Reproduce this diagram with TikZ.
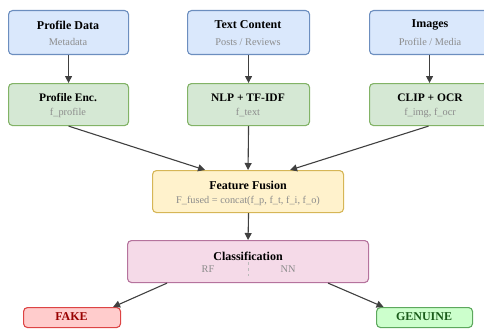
\documentclass[tikz,border=0pt]{standalone}
\usepackage{fontspec}
\setmainfont{Liberation Serif}
\usetikzlibrary{arrows.meta,calc}
\definecolor{inFill}{HTML}{DAE8FC}\definecolor{inLine}{HTML}{6C8EBF}
\definecolor{encFill}{HTML}{D5E8D4}\definecolor{encLine}{HTML}{82B366}
\definecolor{fuFill}{HTML}{FFF2CC}\definecolor{fuLine}{HTML}{D6B656}
\definecolor{clFill}{HTML}{F5DAE8}\definecolor{clLine}{HTML}{B5739D}
\definecolor{fkFill}{HTML}{FFCCCC}\definecolor{fkLine}{HTML}{DD4444}\definecolor{fkText}{HTML}{990000}
\definecolor{gnFill}{HTML}{CCFFCC}\definecolor{gnLine}{HTML}{5DA85D}\definecolor{gnText}{HTML}{1A5C1A}
\definecolor{subText}{HTML}{8C8C8C}
\definecolor{arr}{HTML}{404040}
\tikzset{
  box/.style={draw, line width=1.1pt, rounded corners=4pt, inner sep=0pt, anchor=north west},
  title/.style={font=\bfseries\fontsize{12}{14}\selectfont, inner sep=0pt},
  enctitle/.style={font=\bfseries\fontsize{11.5}{13}\selectfont, inner sep=0pt},
  sub/.style={font=\fontsize{10.3}{12}\selectfont, text=subText, inner sep=0pt},
  link/.style={draw=arr, line width=1.1pt, -{Triangle[length=7pt,width=7pt]}},
}
\begin{document}
\begin{tikzpicture}[x=1pt,y=-1pt]
\useasboundingbox (0,0) rectangle (484,329);
% input sources
\node[box, fill=inFill, draw=inLine, minimum width=120pt, minimum height=44pt] (pd) at (8,10) {};
\node[box, fill=inFill, draw=inLine, minimum width=122pt, minimum height=44pt] (tc) at (187,10) {};
\node[box, fill=inFill, draw=inLine, minimum width=122pt, minimum height=44pt] (im) at (369,10) {};
\node[title] at (68,25) {Profile Data};
\node[sub] at (68,42) {Metadata};
\node[title] at (248,25) {Text Content};
\node[sub] at (248,42) {Posts / Reviews};
\node[title] at (430,25) {Images};
\node[sub] at (430,42) {Profile / Media};
% encoders
\node[box, fill=encFill, draw=encLine, minimum width=120pt, minimum height=42pt] (pe) at (8,83) {};
\node[box, fill=encFill, draw=encLine, minimum width=122pt, minimum height=42pt] (nl) at (187,83) {};
\node[box, fill=encFill, draw=encLine, minimum width=122pt, minimum height=42pt] (cl) at (369,83) {};
\node[enctitle] at (68,98) {Profile Enc.};
\node[sub] at (68,113) {f\_profile};
\node[enctitle] at (248,98) {NLP + TF-IDF};
\node[sub] at (248,113) {f\_text};
\node[enctitle] at (430,98) {CLIP + OCR};
\node[sub] at (430,113) {f\_img, f\_ocr};
% fusion
\node[box, fill=fuFill, draw=fuLine, minimum width=191pt, minimum height=42pt] (fu) at (152,170) {};
\node[title] at (248,185) {Feature Fusion};
\node[sub] at (248,201) {F\_fused = concat(f\_p, f\_t, f\_i, f\_o)};
% classifier
\node[box, fill=clFill, draw=clLine, minimum width=241pt, minimum height=42pt] (cf) at (127,240) {};
\node[title] at (248,256) {Classification};
\node[sub] at (208,269) {RF};
\node[sub] at (288,269) {NN};
\draw[subText!60, dashed, line width=0.6pt] (248,262) -- (248,276);
% outcomes
\node[box, fill=fkFill, draw=fkLine, minimum width=97pt, minimum height=20pt] (fk) at (23,307) {};
\node[title, text=fkText] at (71.5,317) {FAKE};
\node[box, fill=gnFill, draw=gnLine, minimum width=96pt, minimum height=20pt] (gn) at (376,307) {};
\node[title, text=gnText] at (424,317) {GENUINE};
% connectors
\draw[link] (pd.south) -- (pe.north);
\draw[link] (tc.south) -- (nl.north);
\draw[link] ($(im.south)+(-1,0)$) -- ($(cl.north)+(-1,0)$);
\draw[link] (pe.south) -- ($(fu.north)+(-43,0)$);
\draw[link] (nl.south) -- (fu.north);
\draw[link] ($(cl.south)+(-2,0)$) -- ($(fu.north)+(42,0)$);
\draw[link] ($(fu.south)+(0.5,0)$) -- ($(cf.north)+(0,0)$);
\draw[link] ($(cf.south)+(-81,0)$) -- ($(fk.north)+(41,0)$);
\draw[link] ($(cf.south)+(80,0)$) -- ($(gn.north)+(-41,0)$);
\end{tikzpicture}
\end{document}
